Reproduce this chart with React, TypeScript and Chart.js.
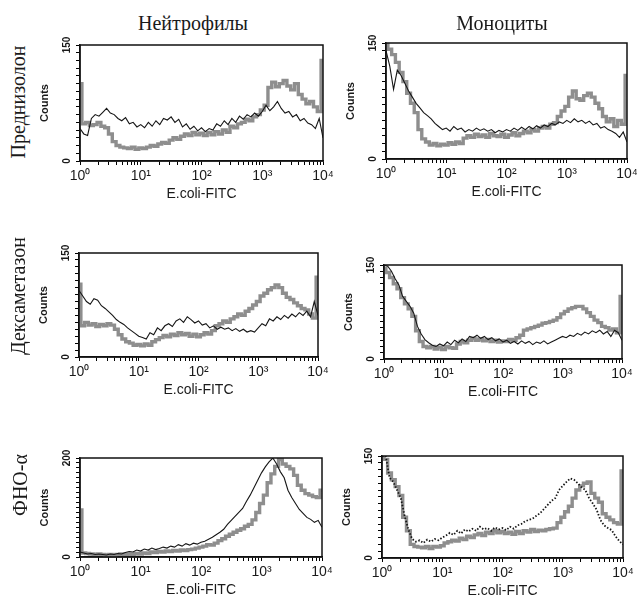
import React, { useEffect, useRef } from "react";
import { Chart, registerables } from "chart.js";

Chart.register(...registerables);

// ---------- shared axis data ----------
// log-spaced FACS channels (10^(k/16), k = 0..64)
const channels = [
  1, 1.155, 1.334, 1.54, 1.778, 2.054, 2.371, 2.738, 3.162, 3.652, 4.217, 4.87, 5.623, 6.494, 7.499, 8.66,
  10, 11.55, 13.34, 15.4, 17.78, 20.54, 23.71, 27.38, 31.62, 36.52, 42.17, 48.7, 56.23, 64.94, 74.99, 86.6,
  100, 115.5, 133.4, 154, 177.8, 205.4, 237.1, 273.8, 316.2, 365.2, 421.7, 487, 562.3, 649.4, 749.9, 866,
  1000, 1155, 1334, 1540, 1778, 2054, 2371, 2738, 3162, 3652, 4217, 4870, 5623, 6494, 7499, 8660, 10000,
];
const xDecades = [1, 10, 100, 1000, 10000];
const xTickLabels = ["10\u2070", "10\u00b9", "10\u00b2", "10\u00b3", "10\u2074"];
const xMinorTicks = [
  1, 2, 3, 4, 5, 6, 7, 8, 9, 10, 20, 30, 40, 50, 60, 70, 80, 90, 100, 200, 300, 400, 500, 600, 700, 800, 900,
  1000, 2000, 3000, 4000, 5000, 6000, 7000, 8000, 9000, 10000,
];
const xTitle = "E.coli-FITC";
const yTitle = "Counts";

const columnTitles = ["Нейтрофилы", "Моноциты"];
const rowTitles = ["Преднизолон", "Дексаметазон", "ФНО-α"];

// ---------- series (counts per channel) ----------
const predNeutBlack = [42, 35, 33, 55, 60, 58, 63, 68, 62, 60, 55, 52, 56, 48, 50, 44, 47, 43, 50, 45, 52, 47, 55, 53, 57, 50, 54, 44, 48, 41, 45, 39, 43, 38, 42, 40, 48, 45, 52, 47, 55, 50, 58, 54, 60, 57, 62, 58, 64, 72, 65, 70, 77, 68, 62, 64, 57, 60, 52, 55, 49, 47, 42, 55, 30];
const predNeutGray = [100, 48, 50, 46, 47, 50, 45, 43, 35, 25, 20, 18, 17, 16, 18, 15, 17, 16, 18, 20, 19, 22, 24, 23, 27, 30, 28, 32, 35, 33, 37, 34, 36, 33, 37, 34, 38, 35, 40, 37, 45, 43, 48, 50, 54, 52, 57, 60, 66, 72, 95, 102, 96, 100, 104, 97, 92, 100, 86, 80, 74, 77, 70, 64, 130];

const predMonoBlack = [140, 120, 90, 115, 108, 98, 88, 80, 72, 66, 60, 56, 52, 46, 42, 38, 40, 36, 42, 38, 40, 35, 38, 36, 40, 37, 39, 36, 38, 34, 37, 35, 38, 36, 40, 37, 41, 38, 42, 39, 43, 40, 44, 42, 46, 44, 48, 46, 50, 47, 52, 48, 50, 46, 49, 44, 46, 40, 42, 38, 36, 33, 28, 35, 22];
const predMonoGray = [150, 142, 135, 125, 112, 100, 85, 72, 60, 38, 26, 22, 18, 20, 17, 19, 18, 21, 19, 22, 20, 27, 30, 28, 32, 29, 31, 28, 33, 30, 29, 32, 28, 31, 34, 30, 33, 36, 34, 38, 36, 40, 42, 40, 45, 47, 55, 62, 68, 80, 88, 78, 76, 82, 85, 80, 72, 65, 55, 48, 52, 42, 50, 45, 108];

const dexNeutBlack = [96, 88, 80, 76, 84, 82, 74, 70, 65, 60, 54, 50, 47, 42, 38, 34, 30, 28, 26, 35, 32, 42, 38, 45, 48, 44, 52, 55, 50, 58, 54, 49, 52, 46, 48, 42, 45, 40, 43, 40, 42, 38, 41, 37, 40, 36, 38, 36, 42, 48, 45, 55, 52, 58, 54, 60, 56, 62, 58, 64, 60, 66, 58, 80, 60];
const dexNeutGray = [105, 45, 50, 46, 48, 44, 47, 45, 48, 46, 40, 32, 26, 22, 20, 17, 18, 16, 19, 17, 22, 25, 28, 31, 29, 33, 31, 35, 32, 34, 30, 33, 29, 32, 35, 33, 38, 45, 48, 52, 50, 55, 58, 62, 60, 66, 70, 75, 80, 88, 92, 97, 100, 104, 100, 92, 86, 83, 78, 74, 70, 68, 62, 56, 115];

const dexMonoBlack = [150, 148, 140, 128, 118, 100, 92, 84, 73, 52, 40, 31, 26, 22, 20, 24, 21, 27, 23, 30, 26, 32, 28, 36, 34, 38, 33, 36, 31, 34, 29, 32, 27, 30, 25, 28, 24, 29, 25, 28, 23, 27, 25, 29, 24, 27, 30, 33, 36, 34, 38, 36, 41, 38, 43, 40, 45, 42, 46, 40, 44, 36, 46, 42, 30];
const dexMonoGray = [145, 138, 130, 120, 112, 98, 88, 80, 68, 45, 28, 20, 18, 20, 16, 19, 15, 20, 18, 17, 24, 28, 26, 30, 33, 30, 32, 29, 31, 28, 30, 27, 29, 28, 31, 30, 34, 38, 46, 48, 50, 52, 54, 57, 58, 60, 62, 66, 72, 76, 80, 82, 84, 84, 80, 74, 68, 62, 58, 52, 50, 46, 48, 42, 100];

const tnfNeutBlack = [10, 8, 6, 7, 5, 6, 5, 4, 6, 5, 7, 6, 9, 11, 10, 14, 12, 16, 14, 18, 15, 17, 20, 18, 22, 20, 25, 22, 27, 24, 28, 26, 30, 32, 36, 40, 45, 50, 56, 66, 74, 82, 90, 98, 112, 125, 140, 155, 170, 182, 192, 200, 188, 172, 160, 135, 120, 108, 96, 88, 80, 76, 70, 74, 60];
const tnfNeutGray = [95, 8, 7, 6, 5, 6, 5, 4, 5, 4, 5, 6, 5, 6, 5, 7, 6, 8, 7, 10, 9, 11, 10, 12, 11, 13, 12, 14, 13, 15, 16, 18, 20, 22, 25, 24, 28, 33, 37, 42, 46, 50, 54, 57, 62, 66, 75, 90, 108, 125, 150, 168, 183, 197, 188, 183, 178, 165, 145, 135, 128, 125, 122, 120, 135];

const tnfMonoBlack = [150, 150, 118, 112, 100, 88, 62, 42, 28, 24, 26, 22, 27, 24, 28, 26, 30, 33, 37, 34, 40, 36, 42, 39, 43, 40, 46, 42, 44, 40, 45, 42, 44, 41, 46, 43, 48, 50, 54, 56, 58, 62, 66, 72, 78, 84, 88, 100, 106, 112, 117, 115, 110, 104, 100, 88, 80, 71, 56, 48, 44, 41, 32, 25, 20];
const tnfMonoGray = [150, 145, 125, 115, 105, 92, 60, 40, 20, 17, 16, 15, 17, 14, 17, 16, 18, 22, 24, 26, 25, 29, 27, 32, 30, 34, 36, 33, 38, 36, 40, 37, 39, 36, 38, 35, 39, 36, 40, 38, 42, 39, 41, 40, 42, 43, 44, 52, 60, 68, 76, 88, 100, 106, 110, 112, 95, 88, 82, 65, 60, 56, 52, 50, 128];

// ---------- layout ----------
const YW = 50; // y scale width
const PT = 10; // top padding
const PR = 18; // right padding
const XH = 44; // x scale height

type PanelSpec = {
  box: [number, number, number, number];
  yMax: number;
  black: number[];
  gray: number[];
  dotted?: boolean;
};

const panels: PanelSpec[] = [
  { box: [80, 45, 323, 161], yMax: 150, black: predNeutBlack, gray: predNeutGray },
  { box: [386, 43, 627, 159], yMax: 150, black: predMonoBlack, gray: predMonoGray },
  { box: [79, 253, 318, 357], yMax: 150, black: dexNeutBlack, gray: dexNeutGray },
  { box: [384, 265, 622, 359], yMax: 150, black: dexMonoBlack, gray: dexMonoGray },
  { box: [80, 458, 322, 557], yMax: 200, black: tnfNeutBlack, gray: tnfNeutGray },
  { box: [382, 456, 623, 558], yMax: 150, black: tnfMonoBlack, gray: tnfMonoGray, dotted: true },
];

const titlePos = [
  { x: 193, y: 23 },
  { x: 502, y: 23 },
];
const rowPos = [
  { x: 18, y: 102 },
  { x: 18, y: 296 },
  { x: 20, y: 485 },
];

const framePlugin = {
  id: "frame",
  afterDatasetsDraw(chart: any) {
    const { ctx, chartArea } = chart;
    const { left, top, right, bottom } = chartArea;
    ctx.save();
    ctx.strokeStyle = "#111";
    ctx.lineWidth = 1.5;
    ctx.strokeRect(left, top, right - left, bottom - top);
    ctx.restore();
  },
};

const SANS = "'Liberation Sans', Arial, Helvetica, sans-serif";
const SERIF = "'Liberation Serif', 'Times New Roman', serif";

function Panel({ spec }: { spec: PanelSpec }) {
  const ref = useRef<HTMLCanvasElement>(null);
  const [l, t, r, b] = spec.box;
  const w = r - l + YW + PR;
  const h = b - t + PT + XH;

  useEffect(() => {
    const yMax = spec.yMax;
    const chart = new Chart(ref.current as HTMLCanvasElement, {
      type: "line",
      data: {
        datasets: [
          {
            label: "black",
            data: channels.map((x, i) => ({ x, y: spec.black[i] })),
            borderColor: "#161616",
            borderWidth: spec.dotted ? 1.8 : 1.1,
            borderDash: spec.dotted ? [1.5, 1.8] : [],
            pointRadius: 0,
            tension: 0,
            fill: false,
          },
          {
            label: "gray",
            data: channels.map((x, i) => ({ x, y: spec.gray[i] })),
            borderColor: "#8e8e8e",
            borderWidth: 3.4,
            stepped: "middle",
            pointRadius: 0,
            fill: false,
          },
        ],
      },
      options: {
        animation: false,
        responsive: false,
        maintainAspectRatio: false,
        layout: { padding: { left: 0, top: PT, right: PR, bottom: 0 } },
        plugins: {
          legend: { display: false },
          tooltip: { enabled: false },
          title: { display: false },
        },
        scales: {
          x: {
            type: "logarithmic",
            min: 1,
            max: 10000,
            position: "bottom",
            afterBuildTicks: (s: any) => {
              s.ticks = xMinorTicks.map((v) => ({ value: v, major: xDecades.includes(v) }));
            },
            afterFit: (s: any) => {
              s.height = XH;
            },
            ticks: {
              autoSkip: false,
              minRotation: 0,
              maxRotation: 0,
              padding: 3,
              color: "#1a1a1a",
              font: { family: SANS, size: 14 },
              callback: (v: any) => {
                const i = xDecades.indexOf(Number(v));
                return i >= 0 ? xTickLabels[i] : "";
              },
            },
            grid: { drawOnChartArea: false, drawTicks: true, tickLength: 4, color: "#000", lineWidth: 1 },
            border: { display: true, color: "#111", width: 1.5 },
            title: {
              display: true,
              text: xTitle,
              color: "#1a1a1a",
              font: { family: SANS, size: 14 },
              padding: { top: 0, bottom: 2 },
            },
          },
          y: {
            type: "linear",
            min: 0,
            max: yMax,
            afterFit: (s: any) => {
              s.width = YW;
            },
            ticks: {
              stepSize: 10,
              autoSkip: false,
              minRotation: 90,
              maxRotation: 90,
              crossAlign: "center",
              padding: 0,
              color: "#1a1a1a",
              font: { family: SANS, size: 10, weight: "bold" },
              callback: (v: any) => (Number(v) === 0 || Number(v) === yMax ? String(v) : ""),
            },
            grid: { drawOnChartArea: false, drawTicks: true, tickLength: 4, color: "#000", lineWidth: 1 },
            border: { display: true, color: "#111", width: 1.5 },
            title: {
              display: true,
              text: yTitle,
              color: "#1a1a1a",
              font: { family: SANS, size: 11, weight: "bold" },
              padding: { top: 8.4, bottom: 0 },
            },
          },
        },
      } as any,
      plugins: [framePlugin],
    });
    return () => chart.destroy();
  }, [spec]);

  return (
    <canvas
      ref={ref}
      width={w}
      height={h}
      style={{ position: "absolute", left: l - YW, top: t - PT, width: w, height: h }}
    />
  );
}

export default function App() {
  return (
    <div
      style={{
        position: "absolute",
        left: 0,
        top: 0,
        width: 637,
        height: 602,
        overflow: "hidden",
        background: "#fff",
      }}
    >
      {panels.map((p, i) => (
        <Panel key={i} spec={p} />
      ))}
      {columnTitles.map((txt, i) => (
        <div
          key={"c" + i}
          style={{
            position: "absolute",
            left: titlePos[i].x,
            top: titlePos[i].y,
            transform: "translate(-50%, -50%)",
            font: `20px ${SERIF}`,
            color: "#1a1a1a",
            whiteSpace: "nowrap",
          }}
        >
          {txt}
        </div>
      ))}
      {rowTitles.map((txt, i) => (
        <div
          key={"r" + i}
          style={{
            position: "absolute",
            left: rowPos[i].x,
            top: rowPos[i].y,
            transform: "translate(-50%, -50%) rotate(-90deg)",
            font: `20px ${SERIF}`,
            color: "#1a1a1a",
            whiteSpace: "nowrap",
          }}
        >
          {txt}
        </div>
      ))}
    </div>
  );
}
